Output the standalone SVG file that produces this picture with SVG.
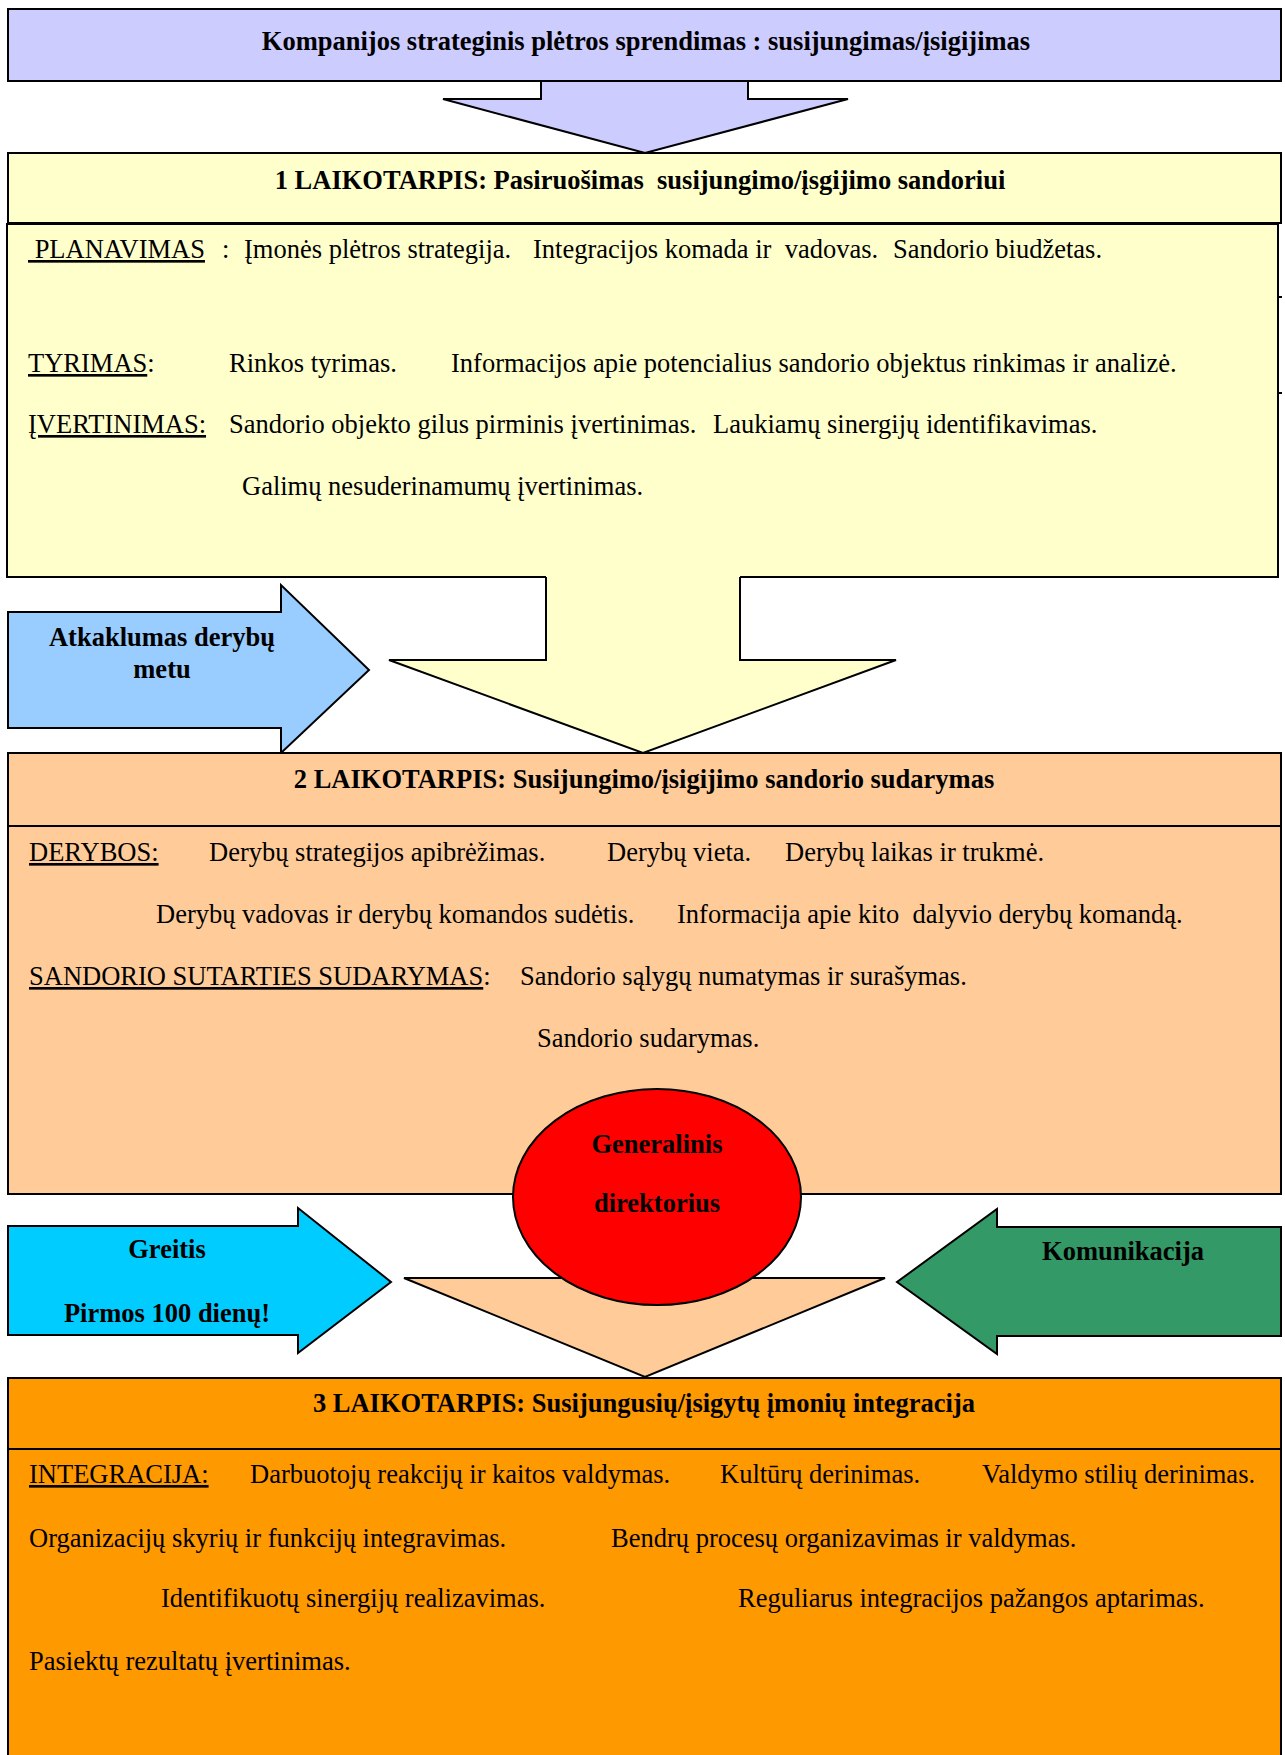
<svg xmlns="http://www.w3.org/2000/svg" width="1285" height="1755" viewBox="0 0 1285 1755">
<style>
.ln{stroke:#000;stroke-width:2;stroke-linejoin:miter}
.t{font-family:"Liberation Serif","Times New Roman",serif;font-size:26.5px;fill:#000;white-space:pre}
.b{font-family:"Liberation Serif","Times New Roman",serif;font-size:26.5px;font-weight:bold;fill:#000;white-space:pre}
.u{text-decoration:underline}
</style>
<rect width="1285" height="1755" fill="#fff"/>
<g id="connectors">
  <polygon class="ln" points="541,81 748,81 748,99 848,99 645,153 443,99 541,99" fill="#CCCCFF"/>
</g>
<g id="top-box">
  <rect class="ln" x="8" y="9" width="1273" height="72" fill="#CCCCFF"/>
  <text class="b" x="646" y="50" text-anchor="middle">Kompanijos strateginis plėtros sprendimas : susijungimas/įsigijimas</text>
</g>
<g id="phase1">
  <rect class="ln" x="8" y="153" width="1273" height="70" fill="#FFFFCC"/>
  <text class="b" x="640" y="189" text-anchor="middle">1 LAIKOTARPIS: Pasiruošimas  susijungimo/įsgijimo sandoriui</text>
  <rect class="ln" x="7" y="224" width="1271" height="353" fill="#FFFFCC"/>
  <line class="ln" x1="1278" y1="297" x2="1282" y2="297"/>
  <line class="ln" x1="1278" y1="393" x2="1282" y2="393"/>
  <text class="t" x="28" y="258"><tspan class="u"> PLANAVIMAS</tspan></text>
  <text class="t" x="222" y="258">:</text>
  <text class="t" x="244" y="258">Įmonės plėtros strategija.</text>
  <text class="t" x="533" y="258">Integracijos komada ir  vadovas.</text>
  <text class="t" x="893" y="258">Sandorio biudžetas.</text>
  <text class="t" x="28" y="372"><tspan class="u">TYRIMAS</tspan>:</text>
  <text class="t" x="229" y="372">Rinkos tyrimas.</text>
  <text class="t" x="451" y="372">Informacijos apie potencialius sandorio objektus rinkimas ir analizė.</text>
  <text class="t" x="28" y="433"><tspan class="u">ĮVERTINIMAS:</tspan></text>
  <text class="t" x="229" y="433">Sandorio objekto gilus pirminis įvertinimas.</text>
  <text class="t" x="713" y="433">Laukiamų sinergijų identifikavimas.</text>
  <text class="t" x="242" y="495">Galimų nesuderinamumų įvertinimas.</text>
</g>
<g id="arrow-phase1-phase2">
  <polygon points="546,570 740,570 740,660 896,660 643,753 389,660 546,660" fill="#FFFFCC"/>
  <polyline class="ln" fill="none" points="546,577 546,660 389,660 643,753 896,660 740,660 740,577"/>
</g>
<g id="atkaklumas">
  <polygon class="ln" points="8,612 281,612 281,585 369,670 281,753 281,728 8,728" fill="#99CCFF"/>
  <text class="b" x="162" y="646" text-anchor="middle">Atkaklumas derybų</text>
  <text class="b" x="162" y="678" text-anchor="middle">metu</text>
</g>
<g id="phase2">
  <rect class="ln" x="8" y="753" width="1273" height="441" fill="#FFCC99"/>
  <line class="ln" x1="8" y1="826" x2="1281" y2="826"/>
  <text class="b" x="644" y="788" text-anchor="middle">2 LAIKOTARPIS: Susijungimo/įsigijimo sandorio sudarymas</text>
  <text class="t" x="29" y="861"><tspan class="u">DERYBOS:</tspan></text>
  <text class="t" x="209" y="861">Derybų strategijos apibrėžimas.</text>
  <text class="t" x="607" y="861">Derybų vieta.</text>
  <text class="t" x="785" y="861">Derybų laikas ir trukmė.</text>
  <text class="t" x="156" y="923">Derybų vadovas ir derybų komandos sudėtis.</text>
  <text class="t" x="677" y="923">Informacija apie kito  dalyvio derybų komandą.</text>
  <text class="t" x="29" y="985"><tspan class="u">SANDORIO SUTARTIES SUDARYMAS</tspan>:</text>
  <text class="t" x="520" y="985">Sandorio sąlygų numatymas ir surašymas.</text>
  <text class="t" x="537" y="1047">Sandorio sudarymas.</text>
</g>
<g id="greitis">
  <polygon class="ln" points="8,1226 298,1226 298,1208 391,1282 298,1353 298,1335 8,1335" fill="#00CCFF"/>
  <text class="b" x="167" y="1258" text-anchor="middle">Greitis</text>
  <text class="b" x="167" y="1322" text-anchor="middle">Pirmos 100 dienų!</text>
</g>
<g id="komunikacija">
  <polygon class="ln" points="1281,1227 997,1227 997,1209 897,1282 997,1354 997,1336 1281,1336" fill="#339966"/>
  <text class="b" x="1123" y="1260" text-anchor="middle">Komunikacija</text>
</g>
<g id="arrow-phase2-phase3">
  <polygon class="ln" points="585,1194 730,1194 730,1278 885,1278 645,1377 404,1278 585,1278" fill="#FFCC99"/>
</g>
<g id="phase3">
  <rect class="ln" x="8" y="1378" width="1273" height="400" fill="#FF9900"/>
  <line class="ln" x1="8" y1="1449" x2="1281" y2="1449"/>
  <text class="b" x="644" y="1412" text-anchor="middle">3 LAIKOTARPIS: Susijungusių/įsigytų įmonių integracija</text>
  <text class="t" x="29" y="1483"><tspan class="u">INTEGRACIJA:</tspan></text>
  <text class="t" x="250" y="1483">Darbuotojų reakcijų ir kaitos valdymas.</text>
  <text class="t" x="720" y="1483">Kultūrų derinimas.</text>
  <text class="t" x="982" y="1483">Valdymo stilių derinimas.</text>
  <text class="t" x="29" y="1547">Organizacijų skyrių ir funkcijų integravimas.</text>
  <text class="t" x="611" y="1547">Bendrų procesų organizavimas ir valdymas.</text>
  <text class="t" x="161" y="1607">Identifikuotų sinergijų realizavimas.</text>
  <text class="t" x="738" y="1607">Reguliarus integracijos pažangos aptarimas.</text>
  <text class="t" x="29" y="1670">Pasiektų rezultatų įvertinimas.</text>
</g>
<g id="generalinis">
  <ellipse class="ln" cx="657" cy="1197" rx="144" ry="108" fill="#FF0000"/>
  <text class="b" x="657" y="1153" text-anchor="middle">Generalinis</text>
  <text class="b" x="657" y="1212" text-anchor="middle">direktorius</text>
</g>
</svg>
